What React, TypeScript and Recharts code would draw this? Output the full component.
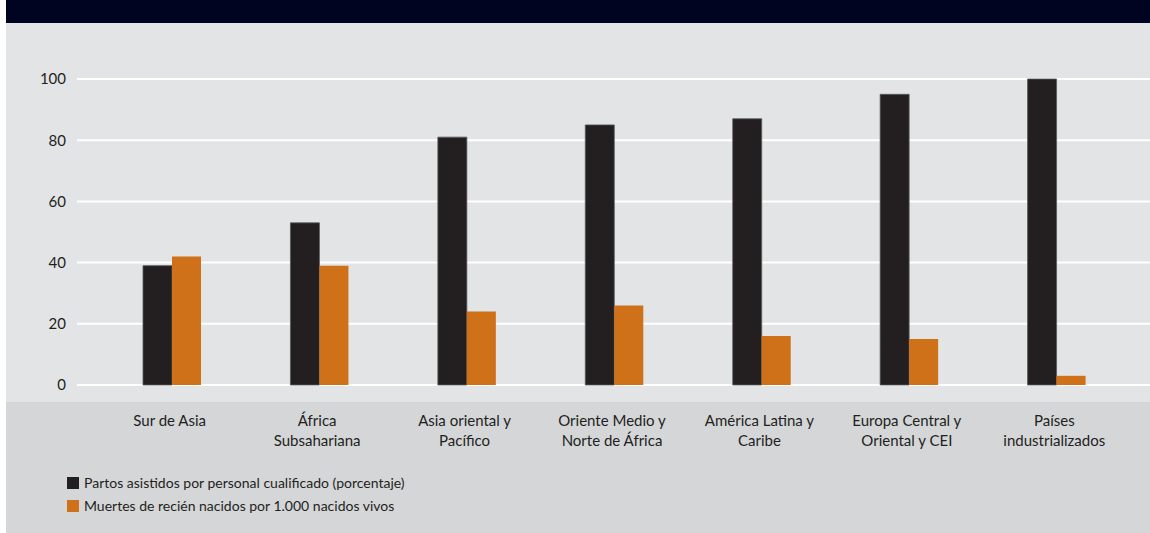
import React from 'react';
import { BarChart, Bar, XAxis, YAxis, CartesianGrid } from 'recharts';

const regions = [
  'Sur de Asia',
  'África\nSubsahariana',
  'Asia oriental y\nPacífico',
  'Oriente Medio y\nNorte de África',
  'América Latina y\nCaribe',
  'Europa Central y\nOriental y CEI',
  'Países\nindustrializados',
];
const partosAsistidos = [39, 53, 81, 85, 87, 95, 100];
const muertesRecienNacidos = [42, 39, 24, 26, 16, 15, 3];
const yTicks = [0, 20, 40, 60, 80, 100];

const series = [
  { key: 'partos', name: 'Partos asistidos por personal cualificado (porcentaje)', color: '#231f20' },
  { key: 'muertes', name: 'Muertes de recién nacidos por 1.000 nacidos vivos', color: '#cf7119' },
];

const data = regions.map((region, i) => ({
  region,
  partos: partosAsistidos[i],
  muertes: muertesRecienNacidos[i],
}));

const FONT = 'Lato, "Open Sans", sans-serif';
const TEXT = '#231f20';

const RegionTick = ({ x, y, payload }: any) => {
  const lines = String(payload.value).split('\n');
  return (
    <text x={x - 2} y={y} textAnchor="middle" fill={TEXT} fontSize={15} fontFamily={FONT}>
      {lines.map((line, i) => (
        <tspan key={i} x={x - 2} dy={i === 0 ? 33 : 20}>{line}</tspan>
      ))}
    </text>
  );
};

export default function App() {
  return (
    <div style={{ position: 'absolute', left: 0, top: 0, width: 1150, height: 533, background: '#fff', overflow: 'hidden' }}>
      <div style={{ position: 'absolute', left: 6, top: 0, width: 1144, height: 533, background: '#e3e4e6' }} />
      <div style={{ position: 'absolute', left: 6, top: 0, width: 1144, height: 23, background: '#000421' }} />
      <div style={{ position: 'absolute', left: 6, top: 402, width: 1144, height: 131, background: '#d5d6d8' }} />
      <div style={{ position: 'absolute', left: 6, top: 0 }}>
        <BarChart
          width={1144}
          height={533}
          data={data}
          margin={{ top: 79, right: 0, left: 0, bottom: 118 }}
          barGap={0}
          barSize={29}
        >
          <CartesianGrid horizontal vertical={false} stroke="#ffffff" strokeWidth={2} />
          <XAxis
            dataKey="region"
            interval={0}
            axisLine={false}
            tickLine={false}
            tick={<RegionTick />}
            height={30}
            padding={{ left: 21, right: 20 }}
          />
          <YAxis
            domain={[0, 100]}
            ticks={yTicks}
            width={71}
            axisLine={false}
            tickLine={false}
            tickSize={0}
            tickMargin={11}
            tick={{ fill: TEXT, fontSize: 15, fontFamily: FONT }}
          />
          <Bar dataKey="partos" name={series[0].name} fill={series[0].color} stroke="#5c5959" strokeWidth={0.8} isAnimationActive={false} />
          <Bar dataKey="muertes" name={series[1].name} fill={series[1].color} isAnimationActive={false} />
        </BarChart>
      </div>
      <div style={{ position: 'absolute', left: 67, top: 471, fontFamily: FONT, fontSize: 14, color: TEXT }}>
        {series.map(s => (
          <div key={s.key} style={{ display: 'flex', alignItems: 'center', height: 23 }}>
            <span style={{ width: 12, height: 12, background: s.color, marginRight: 5, display: 'inline-block' }} />
            <span>{s.name}</span>
          </div>
        ))}
      </div>
    </div>
  );
}
